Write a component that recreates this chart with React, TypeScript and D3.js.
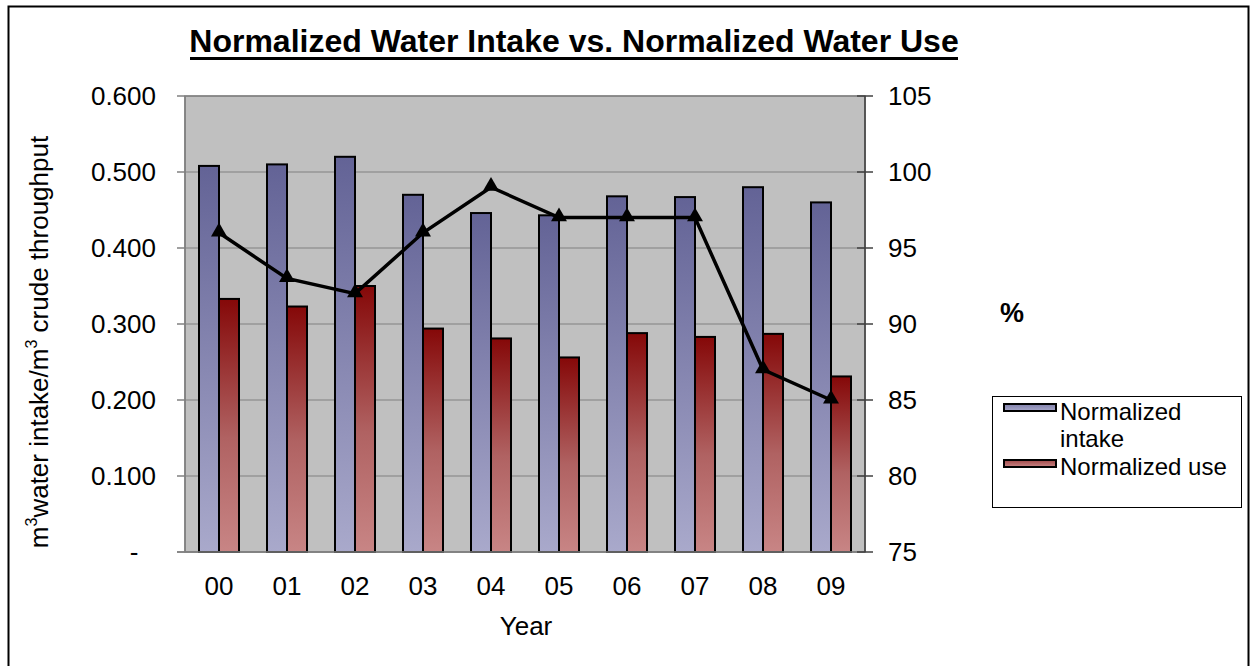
import React from "react";
import * as d3 from "d3";

const years = ["00", "01", "02", "03", "04", "05", "06", "07", "08", "09"];
const intake = [0.508, 0.51, 0.52, 0.47, 0.446, 0.443, 0.468, 0.467, 0.48, 0.46];
const use = [0.333, 0.323, 0.35, 0.294, 0.281, 0.256, 0.288, 0.283, 0.287, 0.231];
const pct = [96, 93, 92, 96, 99, 97, 97, 97, 87, 85];
const leftTicks = [0, 0.1, 0.2, 0.3, 0.4, 0.5, 0.6];
const rightTicks = [75, 80, 85, 90, 95, 100, 105];

const W = 1251, H = 666;
const plot = { l: 185, r: 865, t: 96, b: 552 };
const font = "'Liberation Sans', Arial, sans-serif";

export default function App() {
  const x = d3.scaleBand<string>().domain(years).range([plot.l, plot.r]).paddingInner(0).paddingOuter(0);
  const yL = d3.scaleLinear().domain([0, 0.6]).range([plot.b, plot.t]);
  const yR = d3.scaleLinear().domain([75, 105]).range([plot.b, plot.t]);
  const barW = 20;
  const line = d3.line<number>().x((_, i) => x(years[i])! + x.bandwidth() / 2).y((d) => yR(d));
  const tri = d3.symbol().type(d3.symbolTriangle).size(110)();

  return (
    <svg width={W} height={H} style={{ position: "absolute", left: 0, top: 0 }} fontFamily={font}>
      <defs>
        <linearGradient id="gBlue" x1="0" y1="0" x2="0" y2="1">
          <stop offset="0" stopColor="#636396" />
          <stop offset="1" stopColor="#A9A9CB" />
        </linearGradient>
        <linearGradient id="gRed" x1="0" y1="0" x2="0" y2="1">
          <stop offset="0" stopColor="#850808" />
          <stop offset="0.55" stopColor="#B06262" />
          <stop offset="1" stopColor="#C88585" />
        </linearGradient>
        <linearGradient id="lgBlue" x1="0" y1="0" x2="0" y2="1">
          <stop offset="0" stopColor="#8080AA" />
          <stop offset="1" stopColor="#A9A9CB" />
        </linearGradient>
        <linearGradient id="lgRed" x1="0" y1="0" x2="0" y2="1">
          <stop offset="0" stopColor="#A04848" />
          <stop offset="1" stopColor="#C88585" />
        </linearGradient>
      </defs>
      <rect x={0} y={0} width={W} height={H} fill="#fff" />
      <rect x={8.5} y={6.5} width={1240} height={680} fill="none" stroke="#000" strokeWidth={2} />

      <text x={574} y={52} textAnchor="middle" fontSize={32} fontWeight="bold">
        Normalized Water Intake vs. Normalized Water Use
      </text>
      <line x1={190} x2={958} y1={58.5} y2={58.5} stroke="#000" strokeWidth={3} />

      <rect x={plot.l} y={plot.t} width={plot.r - plot.l} height={plot.b - plot.t} fill="#C0C0C0" stroke="#808080" strokeWidth={1.5} />
      {leftTicks.map((t) => (
        <line key={"g" + t} x1={plot.l} x2={plot.r} y1={yL(t)} y2={yL(t)} stroke="#808080" strokeWidth={1.2} />
      ))}

      {years.map((yr, i) => {
        const cx = x(yr)! + x.bandwidth() / 2;
        return (
          <g key={yr}>
            <rect x={cx - barW} y={yL(intake[i])} width={barW} height={plot.b - yL(intake[i])} fill="url(#gBlue)" stroke="#000" strokeWidth={2} />
            <rect x={cx} y={yL(use[i])} width={barW} height={plot.b - yL(use[i])} fill="url(#gRed)" stroke="#000" strokeWidth={2} />
          </g>
        );
      })}

      <path d={line(pct)!} fill="none" stroke="#000" strokeWidth={3.5} />
      {pct.map((v, i) => (
        <path key={"m" + i} d={tri!} transform={`translate(${x(years[i])! + x.bandwidth() / 2},${yR(v) - 1})`} fill="#000" />
      ))}

      {/* left axis */}
      <line x1={plot.l} x2={plot.l} y1={plot.t} y2={plot.b} stroke="#808080" strokeWidth={1.5} />
      {leftTicks.map((t) => (
        <g key={"l" + t}>
          <line x1={plot.l - 8} x2={plot.l} y1={yL(t)} y2={yL(t)} stroke="#808080" strokeWidth={1.5} />
          <text x={t === 0 ? 134 : 156} y={yL(t) + 9} textAnchor={t === 0 ? "middle" : "end"} fontSize={26}>
            {t === 0 ? "-" : t.toFixed(3)}
          </text>
        </g>
      ))}
      {/* bottom axis */}
      <line x1={plot.l - 8} x2={plot.r} y1={plot.b} y2={plot.b} stroke="#808080" strokeWidth={1.5} />
      {years.map((yr) => (
        <text key={"x" + yr} x={x(yr)! + x.bandwidth() / 2} y={595} textAnchor="middle" fontSize={26}>
          {yr}
        </text>
      ))}
      <text x={526} y={635} textAnchor="middle" fontSize={26}>Year</text>

      {/* right axis */}
      <line x1={plot.r} x2={plot.r} y1={plot.t} y2={plot.b} stroke="#404040" strokeWidth={1.5} />
      {rightTicks.map((t) => (
        <g key={"r" + t}>
          <line x1={plot.r - 8} x2={plot.r + 8} y1={yR(t)} y2={yR(t)} stroke="#404040" strokeWidth={1.5} />
          <text x={888} y={yR(t) + 9} textAnchor="start" fontSize={26}>{t}</text>
        </g>
      ))}
      <text x={1012} y={322} textAnchor="middle" fontSize={27} fontWeight="bold">%</text>

      {/* left axis title */}
      <text transform="translate(48,342) rotate(-90)" textAnchor="middle" fontSize={26}>
        <tspan>m</tspan>
        <tspan fontSize={16} dy={-11}>3</tspan>
        <tspan dy={11}>water intake/m</tspan>
        <tspan fontSize={16} dy={-11}>3</tspan>
        <tspan dy={11}> crude throughput</tspan>
      </text>

      {/* legend */}
      <rect x={992.5} y={396.5} width={249} height={111} fill="#fff" stroke="#000" strokeWidth={1} />
      <rect x={1004} y={404} width={52} height={7} fill="url(#lgBlue)" stroke="#000" strokeWidth={2} />
      <text x={1060} y={420} fontSize={24}>Normalized</text>
      <text x={1060} y={447} fontSize={24}>intake</text>
      <rect x={1004} y={460} width={52} height={7} fill="url(#lgRed)" stroke="#000" strokeWidth={2} />
      <text x={1060} y={475} fontSize={24}>Normalized use</text>
    </svg>
  );
}
